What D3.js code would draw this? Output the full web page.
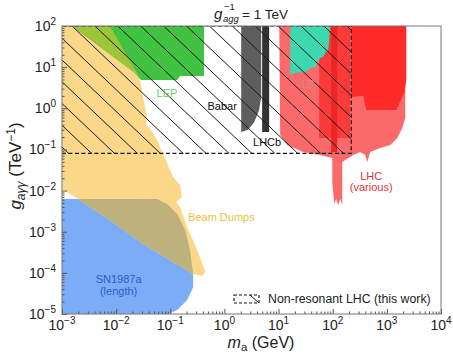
<!DOCTYPE html>
<html><head><meta charset="utf-8">
<script src="https://cdn.jsdelivr.net/npm/d3@7"></script>
<style>
body{margin:0;background:#fff;}
svg{display:block;font-family:"Liberation Sans",Arial,Helvetica,sans-serif;}
</style>
</head><body>
<svg id="chart" width="453" height="354"></svg>
<script>
// ---------- data ----------
const xDomain = [1e-3, 1e4];
const yDomain = [1e-5, 1e2];
const xTickValues = [1e-3, 1e-2, 1e-1, 1, 10, 100, 1e3, 1e4];
const xTickExp = ["\u22123", "\u22122", "\u22121", "0", "1", "2", "3", "4"];
const yTickValues = [1e-5, 1e-4, 1e-3, 1e-2, 1e-1, 1, 10, 100];
const yTickExp = ["\u22125", "\u22124", "\u22123", "\u22122", "\u22121", "0", "1", "2"];

// [m_a (GeV), g (TeV^-1)]
const sn1987a = [[1e-3,6.2e-3],[0.057,6.2e-3],[0.0873,4.7e-3],[0.134,2.7e-3],[0.188,1.1e-3],[0.232,3.6e-4],[0.264,9.4e-5],[0.264,4.5e-5],[0.205,2.2e-5],[0.134,1.25e-5],[0.091,1e-5],[1e-3,1e-5]];
const beamDumps = [[1e-3,100],[0.0077,100],[0.0243,7.2],[0.0277,4.9],[0.0314,1.88],[0.0372,0.61],[0.0357,0.415],[0.0461,0.265],[0.057,0.17],[0.0736,0.077],[0.113,0.0214],[0.152,0.0136],[0.165,0.007],[0.128,0.0053],[0.152,0.0038],[0.205,0.0013],[0.313,3.6e-4],[0.44,1.1e-4],[0.40,8.4e-5],[0.264,9.4e-5],[0.113,1.8e-4],[0.0314,5.0e-4],[0.0077,1.9e-3],[0.00198,6.2e-3],[1e-3,1.09e-2]];
const lep = [[0.00153,100],[0.42,100],[0.42,6.1],[0.152,6.1],[0.134,4.9],[0.0288,4.9],[0.0223,7.2]];
const babar = [[2.04,100],[4.77,100],[4.77,1.88],[4.38,0.91],[3.54,0.46],[2.74,0.30],[2.04,0.265]];
const lhcb = [[4.97,100],[6.7,100],[6.7,0.265],[4.97,0.265]];
const l3 = [[16.4,100],[89.9,100],[86.1,45.7],[82.6,26.1],[72.6,22.1],[66.7,17.6],[58.7,16.7],[51.7,13.3],[47.5,9.5],[41.8,10.1],[35.2,8.5],[28.5,7.2],[25.1,7.6],[20.3,7.2],[16.4,6.4]];
const lhcVarious = [[10.3,100],[2188,100],[2188,0.58],[1926,0.33],[1557,0.19],[1156,0.128],[755,0.108],[493,0.0865],[434,0.0494],[399,0.073],[322,0.0865],[239,0.073],[150,0.0494],[150,0.00446],[138,0.00624],[126,0.00446],[116,0.00624],[107,0.00471],[98,0.0161],[98,0.0618],[58.7,0.073],[28.5,0.0865],[14.4,0.128],[10.7,0.224]];
const lhcBand = [[56.2,100],[210,100],[210,0.19],[56.2,0.19]];
const lhcNarrow = [[93.8,100],[121,100],[121,0.0865],[93.8,0.0865]];
const lhcHigh = [[220,100],[2285,100],[2285,4.9],[2099,2.35],[1492,0.91],[416,0.91],[366,1.99],[220,1.88]];
const nonResonantBox = [[1e-3,100],[220,100],[220,0.08],[1e-3,0.08]];

// ---------- layout ----------
const svg = d3.select("#chart");
const x = d3.scaleLog().domain(xDomain).range([62, 441]);
const y = d3.scaleLog().domain(yDomain).range([314, 26]);
const defs = svg.append("defs");
const line = d3.line().x(d => x(d[0])).y(d => y(d[1]));
const poly = d => line(d) + "Z";

defs.append("clipPath").attr("id","plotClip").append("rect")
  .attr("x", x(xDomain[0])).attr("y", y(yDomain[1]))
  .attr("width", x(xDomain[1]) - x(xDomain[0])).attr("height", y(yDomain[0]) - y(yDomain[1]));
defs.append("clipPath").attr("id","blueClip").append("path").attr("d", poly(sn1987a));
defs.append("clipPath").attr("id","yellowClip").append("path").attr("d", poly(beamDumps));
defs.append("clipPath").attr("id","boxClip").append("path").attr("d", poly(nonResonantBox));

const plot = svg.append("g").attr("clip-path","url(#plotClip)");

function region(data, fill, clip) {
  const p = plot.append("path").attr("d", poly(data)).attr("fill", fill).attr("stroke","none");
  if (clip) p.attr("clip-path", `url(#${clip})`);
  return p;
}
region(sn1987a, "#7cacf5");
region(beamDumps, "#fbd889");
region(beamDumps, "#bdb27e", "blueClip");
region(lep, "#42c242");
region(lep, "#9ec43c", "yellowClip");
region(babar, "#5e5e5e");
region(lhcb, "#333333");
region(lhcVarious, "#fa6a6a");
region(lhcBand, "#fb3a3a");
region(lhcNarrow, "#ea2626");
region(l3, "#3ed8b0");
region(lhcHigh, "#ff2b2b");

// hatch
const hatch = plot.append("g").attr("clip-path","url(#boxClip)");
const hx0 = 72, hSpace = 22.9, hSlope = 0.95, hTop = y(yDomain[1]);
d3.range(-12, 20).forEach(k => {
  const x0 = hx0 + k * hSpace;
  hatch.append("line").attr("x1", x0).attr("y1", hTop).attr("x2", x0 + 400).attr("y2", hTop + 400 * hSlope)
    .attr("stroke","#1a1a1a").attr("stroke-width",1);
});
plot.append("path").attr("d", line(nonResonantBox)).attr("fill","none")
  .attr("stroke","#111").attr("stroke-width",1.2).attr("stroke-dasharray","4,2.5");

// region labels
function label(txt, xp, yp, color, anchor="middle", size=11) {
  svg.append("text").attr("x", xp).attr("y", yp).attr("fill", color)
    .attr("font-size", size).attr("text-anchor", anchor).text(txt);
}
label("LEP", x(0.087), y(1.88), "#66cf66");
label("Babar", x(0.91), y(0.91), "#111");
label("LHCb", x(6.15), y(0.12), "#111");
label("L3", x(35.2), y(3.1), "#b49090");
label("LHC", x(515), y(0.018), "#e03434");
label("(various)", x(515), y(0.00976), "#e03434");
label("Beam Dumps", x(0.213), y(0.0018), "#f0c040", "start");
label("SN1987a", x(0.0111), y(5.66e-5), "#2a5cc8");
label("(length)", x(0.0111), y(2.9e-5), "#2a5cc8");

// axes: ticks inward
const minorX = x.ticks().filter(v => !xTickValues.some(t => Math.abs(t - v) / t < 1e-9));
const minorY = y.ticks().filter(v => !yTickValues.some(t => Math.abs(t - v) / t < 1e-9));
const axCol = "#555";
function styleAxis(g) { g.select(".domain").remove(); g.selectAll("line").attr("stroke", axCol); }
svg.append("g").attr("transform",`translate(0,${y(yDomain[0])})`)
  .call(d3.axisBottom(x).tickValues(xTickValues).tickSize(-5).tickFormat("")).call(styleAxis);
svg.append("g").attr("transform",`translate(0,${y(yDomain[0])})`)
  .call(d3.axisBottom(x).tickValues(minorX).tickSize(-2.5).tickFormat("")).call(styleAxis);
svg.append("g").attr("transform",`translate(${x(xDomain[0])},0)`)
  .call(d3.axisLeft(y).tickValues(yTickValues).tickSize(-5).tickFormat("")).call(styleAxis);
svg.append("g").attr("transform",`translate(${x(xDomain[0])},0)`)
  .call(d3.axisLeft(y).tickValues(minorY).tickSize(-2.5).tickFormat("")).call(styleAxis);

// frame
svg.append("rect").attr("x", x(xDomain[0])).attr("y", y(yDomain[1]))
  .attr("width", x(xDomain[1]) - x(xDomain[0])).attr("height", y(yDomain[0]) - y(yDomain[1]))
  .attr("fill","none").attr("stroke","#777").attr("stroke-width",1);

// tick labels
xTickValues.forEach((v, i) => {
  const t = svg.append("text").attr("x", x(v)).attr("y", 330).attr("text-anchor","middle")
    .attr("font-size", 14).attr("fill","#222");
  t.append("tspan").text("10");
  t.append("tspan").attr("dy", -6).attr("font-size", 10).text(xTickExp[i]);
});
yTickValues.forEach((v, i) => {
  const t = svg.append("text").attr("x", 56).attr("y", y(v) + 5).attr("text-anchor","end")
    .attr("font-size", 14).attr("fill","#222");
  t.append("tspan").text("10");
  t.append("tspan").attr("dy", -6).attr("font-size", 10).text(yTickExp[i]);
});

// axis titles
const xl = svg.append("text").attr("x", 261).attr("y", 348).attr("text-anchor","middle")
  .attr("font-size", 16).attr("fill","#222");
xl.append("tspan").attr("font-style","italic").text("m");
xl.append("tspan").attr("dy", 3).attr("font-size", 11.5).text("a");
xl.append("tspan").attr("dy", -3).text(" (GeV)");

const yl = svg.append("text").attr("transform", `translate(21,${166}) rotate(-90)`)
  .attr("text-anchor","middle").attr("font-size", 17).attr("fill","#222");
yl.append("tspan").attr("font-style","italic").text("g");
yl.append("tspan").attr("dy", 4).attr("font-size", 12).attr("font-style","italic").text("a\u03b3\u03b3");
yl.append("tspan").attr("dy", -4).text(" (TeV");
yl.append("tspan").attr("dy", -6).attr("font-size", 12).text("\u22121");
yl.append("tspan").attr("dy", 6).text(")");

// title
svg.append("text").attr("x", 214).attr("y", 19).attr("font-size", 15).attr("font-style","italic").attr("fill","#222").text("g");
svg.append("text").attr("x", 224).attr("y", 10).attr("font-size", 9.5).attr("fill","#222").text("\u22121");
svg.append("text").attr("x", 223).attr("y", 22).attr("font-size", 9.5).attr("font-style","italic").attr("fill","#222").text("agg");
svg.append("text").attr("x", 242).attr("y", 19).attr("font-size", 13.5).attr("fill","#222").text("= 1 TeV");

// legend
const lg = svg.append("g");
lg.append("clipPath").attr("id","legClip").append("rect").attr("x",234).attr("y",295).attr("width",25).attr("height",8);
lg.append("line").attr("x1",250).attr("y1",295).attr("x2",259).attr("y2",303)
  .attr("stroke","#111").attr("stroke-width",1).attr("clip-path","url(#legClip)");
lg.append("rect").attr("x",234).attr("y",295).attr("width",25).attr("height",8)
  .attr("fill","none").attr("stroke","#111").attr("stroke-width",1.1).attr("stroke-dasharray","3,2");
lg.append("text").attr("x",268).attr("y",303).attr("font-size",12.3).attr("fill","#222")
  .text("Non-resonant LHC (this work)");
</script>
</body></html>
